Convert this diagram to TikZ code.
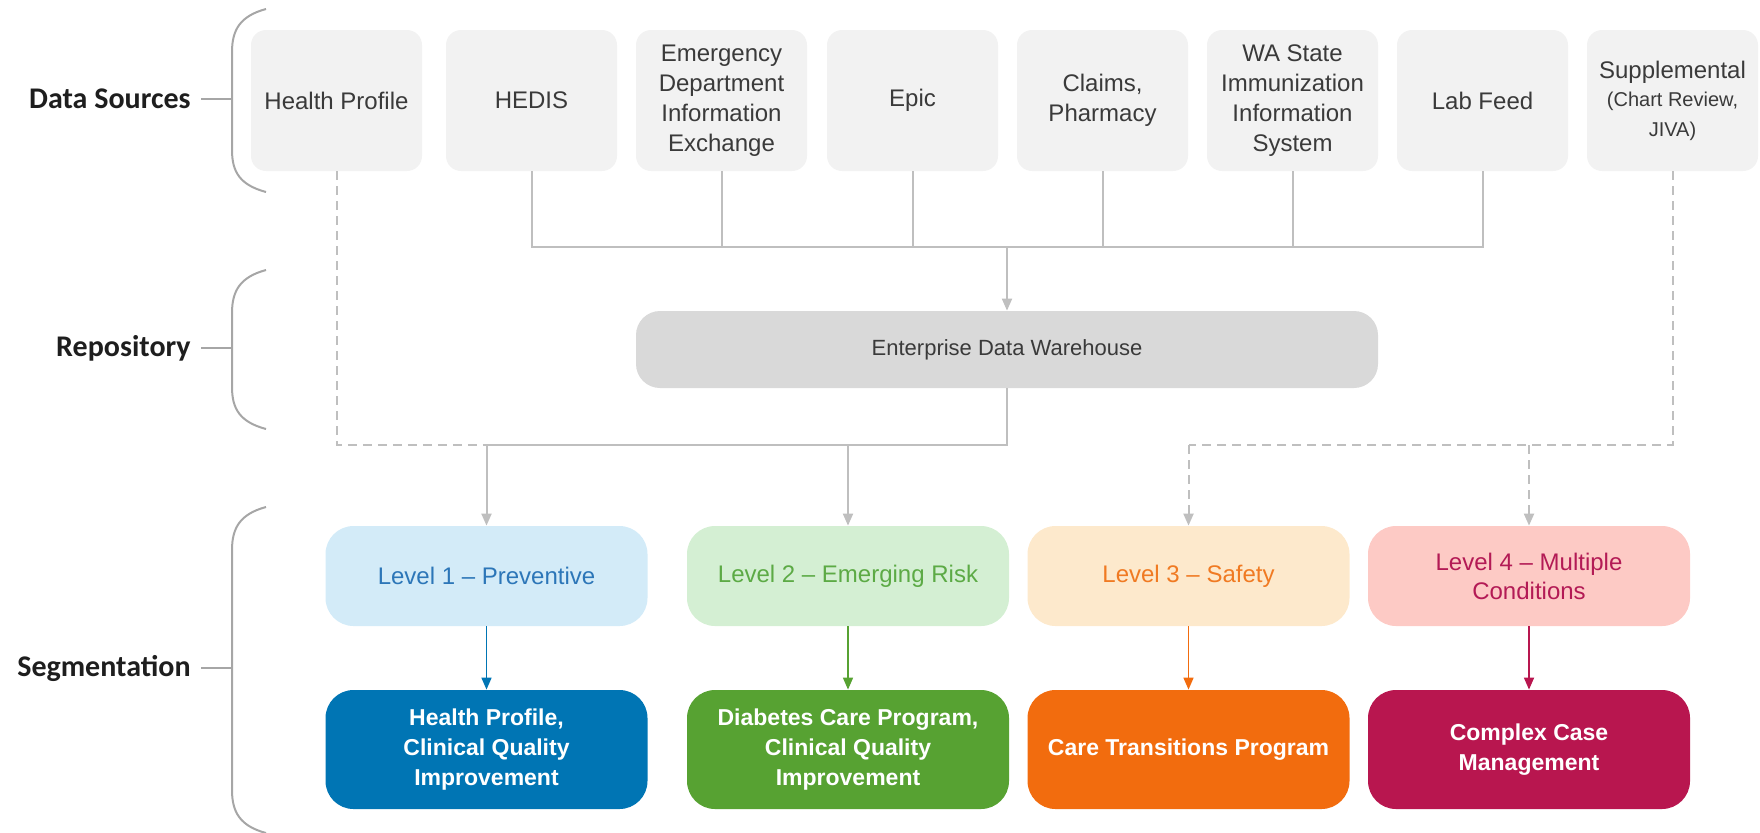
\documentclass[tikz,border=0pt]{standalone}
\usepackage{fontspec}
\setmainfont{Liberation Sans}
\newfontfamily\labelfont{Carlito}
\usetikzlibrary{arrows.meta}

\definecolor{srcfill}{HTML}{F2F2F2}
\definecolor{edwfill}{HTML}{D9D9D9}
\definecolor{linegray}{HTML}{BFBFBF}
\definecolor{bracegray}{HTML}{A6A6A6}
\definecolor{txtgray}{HTML}{3A3A3A}
\definecolor{labelink}{HTML}{1E1E1E}
\definecolor{blueLight}{HTML}{D3EBF8}
\definecolor{blueText}{HTML}{2C76B8}
\definecolor{blueDark}{HTML}{0075B4}
\definecolor{greenLight}{HTML}{D4EFD3}
\definecolor{greenText}{HTML}{5CAA45}
\definecolor{greenDark}{HTML}{57A232}
\definecolor{orangeLight}{HTML}{FDE9CC}
\definecolor{orangeText}{HTML}{F07A22}
\definecolor{orangeDark}{HTML}{F26C0E}
\definecolor{redLight}{HTML}{FDCAC5}
\definecolor{redText}{HTML}{B31A55}
\definecolor{redDark}{HTML}{B8164F}

\begin{document}
\begin{tikzpicture}[x=0.5pt,y=-0.5pt,
  srcbox/.style={rounded corners=7.5pt, fill=srcfill, minimum width=85.5pt,
    minimum height=70.5pt, inner sep=0pt, align=center, text=txtgray,
    font=\fontsize{12}{15}\selectfont},
  edwbox/.style={rounded corners=12pt, fill=edwfill, minimum width=371pt,
    minimum height=38.5pt, inner sep=0pt, align=center, text=txtgray,
    font=\fontsize{11}{13}\selectfont},
  lvlbox/.style={rounded corners=14pt, minimum width=161pt, minimum height=50pt,
    inner sep=0pt, align=center, font=\fontsize{12}{14.5}\selectfont},
  prgbox/.style={rounded corners=14pt, minimum width=161pt, minimum height=59.5pt,
    inner sep=0pt, align=center, text=white, font=\bfseries\fontsize{11.5}{15}\selectfont},
  grouplabel/.style={anchor=east, inner sep=0pt, text=labelink,
    font=\labelfont\bfseries\fontsize{15}{18}\selectfont},
  bracket/.style={draw=bracegray, line width=1pt},
  conn/.style={draw=linegray, line width=1pt},
  dashconn/.style={draw=linegray, line width=1pt, dash pattern=on 4.5pt off 3pt},
  arr/.style={-{Triangle[length=6pt,width=5pt]}},
  colarr/.style={line width=0.8pt, -{Triangle[length=6pt,width=5pt]}}
]
\useasboundingbox (0,0) rectangle (1760,832);

% ---------- data sources ----------
\node[srcbox] (hp)     at (336.5,100.5)  {Health Profile};
\node[srcbox] (hedis)  at (531.5,100.5)  {HEDIS};
\node[srcbox] (ed)     at (721.5,100.5)  {Emergency\\Department\\Information\\Exchange};
\node[srcbox] (epic)   at (912.5,100.5)  {Epic};
\node[srcbox] (claims) at (1102.5,100.5) {Claims,\\Pharmacy};
\node[srcbox] (wa)     at (1292.5,100.5) {WA State\\Immunization\\Information\\System};
\node[srcbox] (lab)    at (1482.5,100.5) {Lab Feed};
\node[srcbox] (supp)   at (1672.5,100.5) {Supplemental\\[-1pt]{\fontsize{10}{13}\selectfont(Chart Review,}\\{\fontsize{10}{13}\selectfont JIVA)}};

% ---------- repository ----------
\node[edwbox] (edw) at (1007,349.5) {Enterprise Data Warehouse};

% ---------- segmentation levels ----------
\node[lvlbox, fill=blueLight,   text=blueText]   (lvl1) at (486.5,576)  {Level 1 -- Preventive};
\node[lvlbox, fill=greenLight,  text=greenText]  (lvl2) at (848,576)    {Level 2 -- Emerging Risk};
\node[lvlbox, fill=orangeLight, text=orangeText] (lvl3) at (1188.5,576) {Level 3 -- Safety};
\node[lvlbox, fill=redLight,    text=redText]    (lvl4) at (1529,576)   {Level 4 -- Multiple\\Conditions};

\node[prgbox, fill=blueDark]   (prg1) at (486.5,749.5)  {Health Profile,\\Clinical Quality\\Improvement};
\node[prgbox, fill=greenDark]  (prg2) at (848,749.5)    {Diabetes Care Program,\\Clinical Quality\\Improvement};
\node[prgbox, fill=orangeDark] (prg3) at (1188.5,749.5) {Care Transitions Program};
\node[prgbox, fill=redDark]    (prg4) at (1529,749.5)   {Complex Case\\Management};

% ---------- group labels and brackets ----------
\node[grouplabel] (gsrc) at (191,99)  {Data Sources};
\node[grouplabel] (grep) at (191,348) {Repository};
\node[grouplabel] (gseg) at (191,668) {Segmentation};

\coordinate (bsrc) at (232,99);
\coordinate (brep) at (232,348);
\coordinate (bseg) at (232,668);

\draw[bracket] (266,9) .. controls (240,16) and (232,30) .. (232,52)
  -- (232,150) .. controls (232,172) and (240,185) .. (266,192);
\draw[bracket] (266,270) .. controls (240,277) and (232,291) .. (232,313)
  -- (232,387) .. controls (232,409) and (240,422) .. (266,429);
\draw[bracket] (266,507) .. controls (240,514) and (232,528) .. (232,550)
  -- (232,790) .. controls (232,812) and (240,826) .. (266,833);

\draw[bracket] ([xshift=5pt]gsrc.east) -- (bsrc);
\draw[bracket] ([xshift=5pt]grep.east) -- (brep);
\draw[bracket] ([xshift=5pt]gseg.east) -- (bseg);

% ---------- sources into the warehouse ----------
\coordinate (bus) at (1007,247);
\draw[conn] (hedis.south) |- (bus) -| (lab.south);
\foreach \s in {ed,epic,claims,wa}
  \draw[conn] (\s.south) -- (\s.south |- bus);
\draw[conn, arr] (bus) -- (edw.north);

% ---------- warehouse and direct feeds into the levels ----------
\coordinate (join) at (1007,445);
\draw[conn] (edw.south) -- (join) -- (join -| lvl1.north);
\draw[dashconn] (hp.south) |- (join -| lvl1.north);
\draw[conn, arr] (join -| lvl1.north) -- (lvl1.north);
\draw[conn, arr] (join -| lvl2.north) -- (lvl2.north);

\draw[dashconn] (supp.south) |- (join -| lvl3.north);
\draw[dashconn, arr] (join -| lvl3.north) -- (lvl3.north);
\draw[dashconn, arr] (join -| lvl4.north) -- (lvl4.north);

% ---------- levels into programs ----------
\draw[colarr, draw=blueDark,   fill=blueDark]   (lvl1.south) -- (prg1.north);
\draw[colarr, draw=greenDark,  fill=greenDark]  (lvl2.south) -- (prg2.north);
\draw[colarr, draw=orangeDark, fill=orangeDark] (lvl3.south) -- (prg3.north);
\draw[colarr, draw=redDark,    fill=redDark]    (lvl4.south) -- (prg4.north);
\end{tikzpicture}
\end{document}
